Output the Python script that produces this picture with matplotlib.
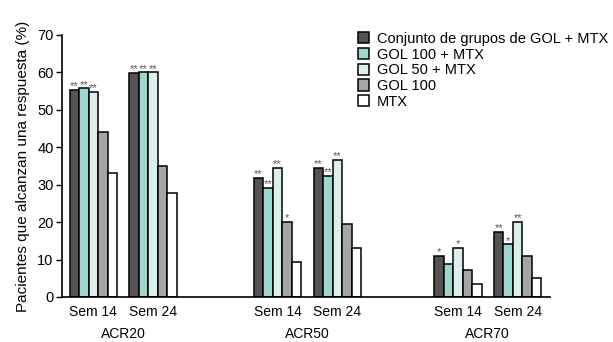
import matplotlib
matplotlib.use('Agg')
import matplotlib.pyplot as plt
import numpy as np

plt.rcParams['font.family'] = ['Liberation Sans', 'DejaVu Sans']

# datos (% pacientes)
groups = ['ACR20', 'ACR50', 'ACR70']
weeks = ['Sem 14', 'Sem 24']
series = ['Conjunto de grupos de GOL + MTX', 'GOL 100 + MTX', 'GOL 50 + MTX', 'GOL 100', 'MTX']
colors = ['#545454', '#9ed5cd', '#dcefed', '#a5a5a5', '#ffffff']

# valores por serie: orden ACR20 S14, ACR20 S24, ACR50 S14, ACR50 S24, ACR70 S14, ACR70 S24
values = [
    [55.3, 59.9, 31.8, 34.5, 11.0, 17.5],
    [55.8, 60.0, 29.2, 32.4, 8.7, 14.1],
    [54.9, 60.0, 34.5, 36.7, 13.1, 20.1],
    [44.1, 35.1, 20.1, 19.5, 7.3, 11.0],
    [33.0, 27.7, 9.4, 13.2, 3.5, 5.2],
]
stars = [
    ['**', '**', '**', '**', '*', '**'],
    ['**', '**', '**', '**', '', '*'],
    ['**', '**', '**', '**', '*', '**'],
    ['', '', '*', '', '', ''],
    ['', '', '', '', '', ''],
]

group_pos = np.array([0, 19.4, 38.4])
week_offset = 6.3
centers = np.array([g + w * week_offset for g in group_pos for w in range(2)])

fig = plt.figure(figsize=(6.13, 3.42), dpi=100)
ax = fig.add_axes([62 / 613, 1 - 297 / 342, (550 - 62) / 613, (297 - 35) / 342])

width = 1.0
for i, (name, col) in enumerate(zip(series, colors)):
    xs = centers + (i - 2) * width
    ax.bar(xs, values[i], width=width, color=col, edgecolor='black', linewidth=1.1, label=name)
    for x, v, s in zip(xs, values[i], stars[i]):
        if s:
            ax.text(x, v - 0.4, s, ha='center', va='bottom', fontsize=8, color='#555555')

ax.set_xlim(-3.3, 48.1)
ax.set_ylim(0, 70)
ax.set_yticks(range(0, 71, 10))
ax.tick_params(axis='y', labelsize=10.5, length=4, width=1, direction='out', pad=2)
ax.set_xticks(centers)
ax.set_xticklabels(weeks * 3, fontsize=10)
ax.tick_params(axis='x', length=0, pad=6)
for g, name in zip(group_pos, groups):
    ax.text(g + week_offset / 2, -10.0, name, ha='center', va='center', fontsize=10)
ax.spines['top'].set_visible(False)
ax.spines['right'].set_visible(False)
ax.spines['left'].set_linewidth(1.2)
ax.spines['bottom'].set_linewidth(1.2)
ax.set_ylabel('Pacientes que alcanzan una respuesta (%)', fontsize=11, labelpad=5)

ax.legend(loc='upper left', bbox_to_anchor=(352 / 613, 1 - 26 / 342), bbox_transform=fig.transFigure,
          frameon=False, fontsize=10.5, handlelength=0.8, handleheight=0.8, handletextpad=0.5,
          labelspacing=0.12, borderaxespad=0)

fig.savefig('out.png', dpi=100)
